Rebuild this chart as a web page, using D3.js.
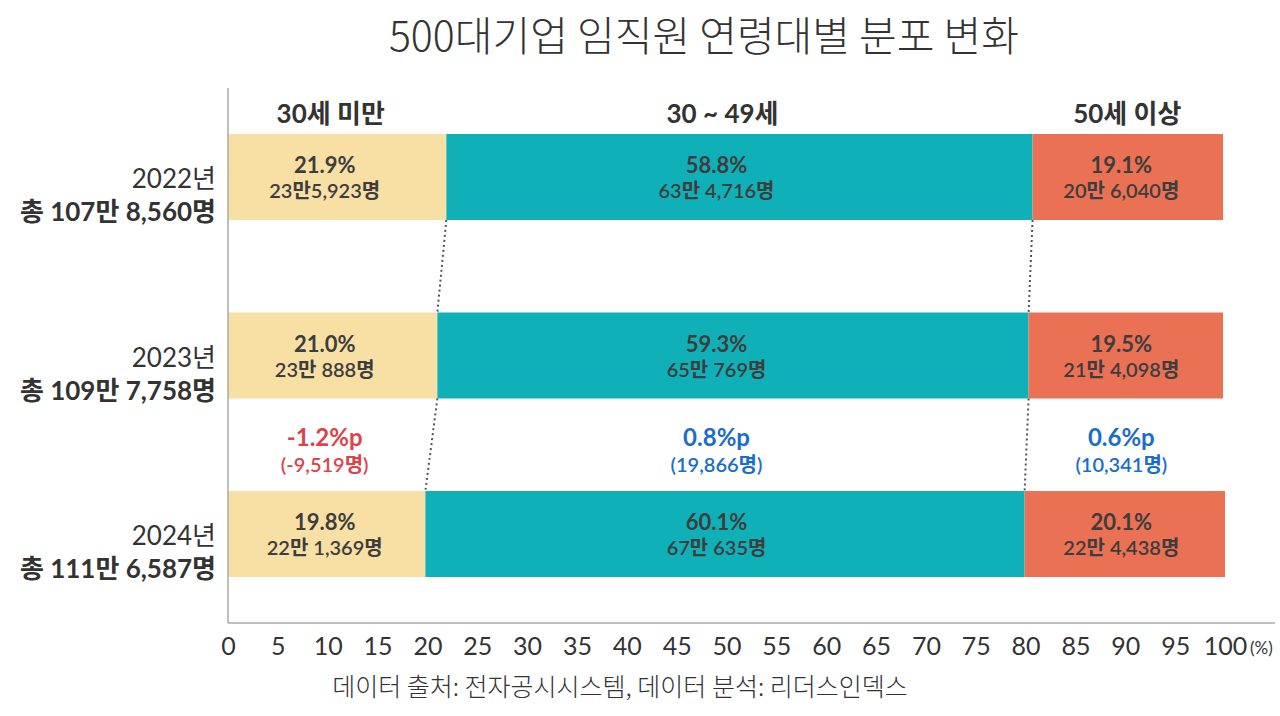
<!DOCTYPE html>
<html>
<head>
<meta charset="utf-8">
<script src="https://cdn.jsdelivr.net/npm/d3@7"></script>
<style>
  body { margin: 0; background: #fff; }
  text { font-family: Lato, "Noto Sans CJK KR", sans-serif; }
</style>
</head>
<body>
<div id="chart"></div>
<script>
// chart values
const years = ["2022년", "2023년", "2024년"];
const totals = ["총 107만 8,560명", "총 109만 7,758명", "총 111만 6,587명"];
const groups = ["30세 미만", "30 ~ 49세", "50세 이상"];
const share2022 = [21.9, 58.8, 19.1];
const share2023 = [21.0, 59.3, 19.5];
const share2024 = [19.8, 60.1, 20.1];
const count2022 = ["23만5,923명", "63만 4,716명", "20만 6,040명"];
const count2023 = ["23만 888명", "65만 769명", "21만 4,098명"];
const count2024 = ["22만 1,369명", "67만 635명", "22만 4,438명"];
const diffPct = [-1.2, 0.8, 0.6];
const diffLabels = ["-1.2%p", "0.8%p", "0.6%p"];
const diffCounts = ["(-9,519명)", "(19,866명)", "(10,341명)"];
const xTicks = [0, 5, 10, 15, 20, 25, 30, 35, 40, 45, 50, 55, 60, 65, 70, 75, 80, 85, 90, 95, 100];

const shares = [share2022, share2023, share2024];
const counts = [count2022, count2023, count2024];

var width = 1280;
var height = 716;
const colors = ["#f8e0a5", "#10b0b8", "#eb7155"];
const textColor = "#3d3d3d";
// x position (in %) of the label column for each age group
const labelCols = [9.7, 49.0, 89.6];

let svg = d3.select("#chart")
  .append("svg")
  .attr("width", width)
  .attr("height", height);

let x = d3.scaleLinear().domain([0, 100]).range([228, 1225]);
let y = d3.scalePoint().domain(years).range([177, 534]);
const barH = 86;

// build stacked rows
let rows = years.map((yr, i) => {
  let acc = 0;
  return shares[i].map((v, j) => {
    let seg = { year: yr, group: j, x0: acc, x1: acc + v, value: v, count: counts[i][j] };
    acc += v;
    return seg;
  });
});

// title
svg.append("text")
  .attr("x", 704)
  .attr("y", 51)
  .attr("text-anchor", "middle")
  .style("font-family", "'Noto Sans CJK KR', sans-serif")
  .style("font-weight", 300)
  .style("font-size", "41px")
  .style("fill", "#333")
  .text("500대기업 임직원 연령대별 분포 변화");

// group headers
svg.selectAll(".header")
  .data(groups)
  .enter()
  .append("text")
  .attr("class", "header")
  .attr("x", (d, i) => x(labelCols[i]) + 6)
  .attr("y", 123)
  .attr("text-anchor", "middle")
  .style("font-size", "26px")
  .style("font-weight", 700)
  .style("fill", "#333")
  .text(d => d);

// bars
let rowG = svg.selectAll(".row")
  .data(rows)
  .enter()
  .append("g")
  .attr("class", "row");

rowG.selectAll("rect")
  .data(d => d)
  .enter()
  .append("rect")
  .attr("x", d => x(d.x0))
  .attr("width", d => x(d.x1) - x(d.x0))
  .attr("y", d => y(d.year) - barH / 2)
  .attr("height", barH)
  .style("fill", d => colors[d.group]);

// percent labels in bars
rowG.selectAll(".pct")
  .data(d => d)
  .enter()
  .append("text")
  .attr("class", "pct")
  .attr("x", d => x(labelCols[d.group]))
  .attr("y", d => y(d.year) - 4)
  .attr("text-anchor", "middle")
  .style("font-size", "22px")
  .style("font-weight", 700)
  .style("fill", textColor)
  .text(d => d.value.toFixed(1) + "%");

rowG.selectAll(".cnt")
  .data(d => d)
  .enter()
  .append("text")
  .attr("class", "cnt")
  .attr("x", d => x(labelCols[d.group]))
  .attr("y", d => y(d.year) + 21)
  .attr("text-anchor", "middle")
  .style("font-size", "20px")
  .style("font-weight", 600)
  .style("fill", textColor)
  .text(d => d.count);

// dotted connectors between boundaries of consecutive years
for (let i = 0; i < rows.length - 1; i++) {
  for (let j = 0; j < 2; j++) {
    svg.append("line")
      .attr("x1", x(rows[i][j].x1))
      .attr("y1", y(years[i]) + barH / 2)
      .attr("x2", x(rows[i + 1][j].x1))
      .attr("y2", y(years[i + 1]) - barH / 2)
      .style("stroke", "#555")
      .style("stroke-width", 2)
      .style("stroke-dasharray", "2,3");
  }
}

// year labels
svg.selectAll(".year")
  .data(years)
  .enter()
  .append("text")
  .attr("class", "year")
  .attr("x", 216)
  .attr("y", d => y(d) + 11)
  .attr("text-anchor", "end")
  .style("font-size", "26px")
  .style("fill", "#333")
  .text(d => d);

svg.selectAll(".total")
  .data(totals)
  .enter()
  .append("text")
  .attr("class", "total")
  .attr("x", 216)
  .attr("y", (d, i) => y(years[i]) + 44)
  .attr("text-anchor", "end")
  .style("font-size", "26px")
  .style("font-weight", 700)
  .style("fill", "#333")
  .text(d => d);

// change between 2023 and 2024
const midY = (y(years[1]) + y(years[2])) / 2;
svg.selectAll(".diff")
  .data(diffLabels)
  .enter()
  .append("text")
  .attr("class", "diff")
  .attr("x", (d, i) => x(labelCols[i]))
  .attr("y", midY + 1)
  .attr("text-anchor", "middle")
  .style("font-size", "24px")
  .style("font-weight", 700)
  .style("fill", (d, i) => diffPct[i] < 0 ? "#dc4449" : "#1a6dcc")
  .text(d => d);

svg.selectAll(".diffc")
  .data(diffCounts)
  .enter()
  .append("text")
  .attr("class", "diffc")
  .attr("x", (d, i) => x(labelCols[i]))
  .attr("y", midY + 27)
  .attr("text-anchor", "middle")
  .style("font-size", "20px")
  .style("font-weight", 600)
  .style("fill", (d, i) => diffPct[i] < 0 ? "#dc4449" : "#1a6dcc")
  .text(d => d);

// axes
svg.append("line")
  .attr("x1", x(0)).attr("x2", x(0))
  .attr("y1", 88).attr("y2", 623)
  .style("stroke", "#aaa")
  .style("stroke-width", 1.5);

svg.append("line")
  .attr("x1", x(0)).attr("x2", 1275)
  .attr("y1", 623).attr("y2", 623)
  .style("stroke", "#aaa")
  .style("stroke-width", 1.5);

let xAxis = svg.append("g")
  .attr("transform", "translate(0,623)")
  .call(d3.axisBottom(x).tickValues(xTicks).tickSize(0).tickPadding(14));
xAxis.select(".domain").remove();
xAxis.selectAll("text")
  .style("font-family", "Lato, sans-serif")
  .style("font-size", "25px")
  .style("fill", "#333");

svg.append("text")
  .attr("x", 1250)
  .attr("y", 654)
  .style("font-size", "17px")
  .style("fill", "#333")
  .text("(%)");

// source
svg.append("text")
  .attr("x", 620)
  .attr("y", 696)
  .attr("text-anchor", "middle")
  .style("font-family", "'Noto Sans CJK KR', sans-serif")
  .style("font-weight", 300)
  .style("font-size", "25px")
  .style("fill", "#333")
  .text("데이터 출처: 전자공시시스템, 데이터 분석: 리더스인덱스");
</script>
</body>
</html>
